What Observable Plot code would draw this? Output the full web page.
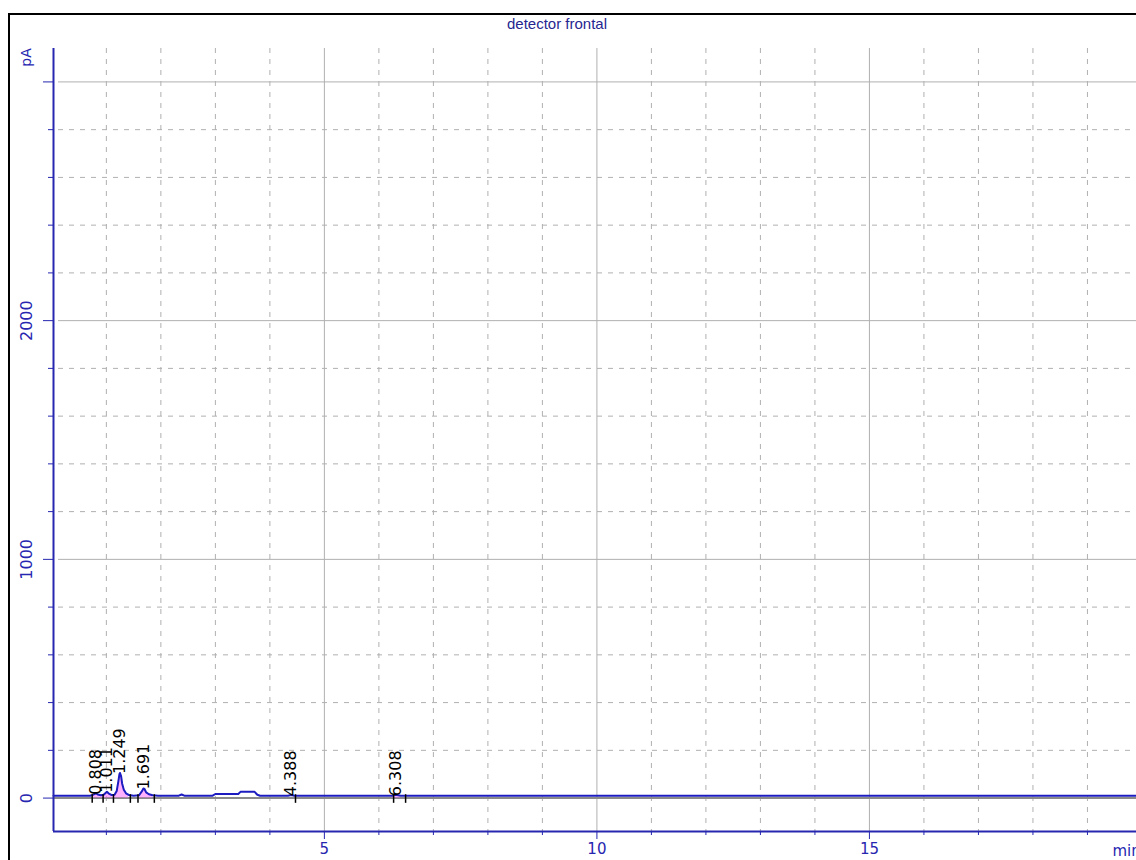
<!DOCTYPE html>
<html><head><meta charset="utf-8">
<script src="https://cdn.jsdelivr.net/npm/d3@7"></script>
<script src="https://cdn.jsdelivr.net/npm/@observablehq/plot@0.6"></script>
<style>
body{margin:0;background:#fff;overflow:hidden}
#wrap{position:relative;width:1136px;height:860px;overflow:hidden;background:#fff}
#border{position:absolute;left:8px;top:13px;width:2000px;height:2000px;border-left:2px solid #000;border-top:2px solid #000;pointer-events:none}
</style></head><body><div id="wrap"><div id="border"></div></div>
<script>
// Chromatogram signal (min, pA)
const times = [0.03, 0.70, 0.75, 0.79, 0.81, 0.84, 0.90, 0.95, 0.99, 1.01, 1.04, 1.09, 1.15, 1.19, 1.22, 1.24, 1.25, 1.27, 1.29, 1.32, 1.36, 1.41, 1.50, 1.60, 1.65, 1.68, 1.70, 1.73, 1.78, 1.85, 1.95, 2.33, 2.38, 2.43, 2.95, 3.00, 3.42, 3.46, 3.72, 3.77, 3.82, 4.33, 4.39, 4.45, 6.24, 6.31, 6.40, 19.9];
const pA    = [10,   10,   13,   18,   20,   15,   12,   14,   22,   26,   20,   13,   14,   30,   70,   100,  105,  92,   60,   35,   20,   13,   10,   12,   28,   40,   38,   24,   16,   12,   10,   10,   15,   10,   10,   17,   17,   26,   26,   14,   10,   10,   13,   10,   10,   14,   10,   10];

// Integrated peaks
const peakTimes   = [0.808, 1.011, 1.249, 1.691, 4.388, 6.308];
const peakLabels  = ["0.808", "1.011", "1.249", "1.691", "4.388", "6.308"];
const peakHeights = [18, 26, 105, 40, 12, 12];
const peakMarks   = [0.74, 0.94, 1.13, 1.44, 1.58, 1.88, 4.47, 6.27, 6.49];
const peakStarts  = [0.72, 1.58, 6.22];
const peakEnds    = [1.44, 1.88, 6.48];

// Axes
const xMajor = [5, 10, 15];
const xMinor = [1, 2, 3, 4, 6, 7, 8, 9, 11, 12, 13, 14, 16, 17, 18, 19];
const yMajor = [0, 1000, 2000, 3000];
const yLabels = [0, 1000, 2000];
const yMinor = [200, 400, 600, 800, 1200, 1400, 1600, 1800, 2200, 2400, 2600, 2800];
const xDomain = [0.03, 19.9];
const yDomain = [-140, 3140];
const title = "detector frontal";
const yUnit = "pA";
const xUnit = "min";

const signal = times.map((t, i) => ({t, v: pA[i]}));
const peaks = peakTimes.map((t, i) => ({t, label: peakLabels[i], h: peakHeights[i]}));
const inPeak = t => peakStarts.some((s, i) => t >= s && t <= peakEnds[i]);

const blue = "#2626b0";
const grid = "#b0b0b0";
const font = "DejaVu Sans";

const chart = Plot.plot({
  width: 1136,
  height: 860,
  marginLeft: 53,
  marginRight: 0,
  marginTop: 48,
  marginBottom: 29,
  style: {fontFamily: font, background: "white", overflow: "hidden"},
  x: {domain: xDomain},
  y: {domain: yDomain},
  marks: [
    Plot.ruleX(xMinor, {stroke: grid, strokeWidth: 1, strokeDasharray: "5,6"}),
    Plot.ruleY(yMinor, {stroke: grid, strokeWidth: 1, strokeDasharray: "5,6", insetLeft: 5}),
    Plot.ruleX(xMajor, {stroke: grid, strokeWidth: 1}),
    Plot.ruleY(yMajor.filter(d => d !== 0), {stroke: grid, strokeWidth: 1, insetLeft: 5}),
    // baseline
    Plot.ruleY([0], {stroke: "#8a8a8a", strokeWidth: 2}),
    // peak areas
    Plot.areaY(signal, {x: "t", y1: 0, y2: d => inPeak(d.t) ? d.v : NaN, fill: "#ff70ff", fillOpacity: 0.55}),
    // signal
    Plot.line(signal, {x: "t", y: "v", stroke: "#1c1cc0", strokeWidth: 2}),
    // peak boundary marks
    Plot.ruleX(peakMarks, {y1: -22, y2: 14, stroke: "#000", strokeWidth: 1.5}),
    // peak labels
    Plot.text(peaks, {x: "t", y: "h", text: "label", rotate: -90, textAnchor: "start", lineAnchor: "middle", dy: 1, fontSize: 16, fill: "#000"}),
    // axis lines
    Plot.ruleX([xDomain[0]], {stroke: blue, strokeWidth: 2}),
    Plot.ruleY([yDomain[0]], {stroke: blue, strokeWidth: 2}),
    // axis ticks
    Plot.axisX(xMinor, {tickSize: 4, stroke: blue, fill: "none", label: null}),
    Plot.axisX(xMajor, {tickSize: 8, tickPadding: 4, stroke: blue, fill: blue, fontSize: 15, label: null}),
    Plot.axisY(yMinor, {tickSize: 5, stroke: blue, fill: "none", label: null}),
    Plot.axisY(yMajor, {tickSize: 10, stroke: blue, fill: "none", label: null}),
    Plot.text(yLabels, {y: d => d, text: d => String(d), frameAnchor: "left", dx: -27, rotate: -90, textAnchor: "middle", lineAnchor: "middle", fontSize: 16, fill: blue}),
    Plot.text([yUnit], {text: d => d, frameAnchor: "top-left", dx: -27, dy: 9, rotate: -90, textAnchor: "middle", lineAnchor: "middle", fontSize: 14, fill: blue}),
    Plot.text([xUnit], {text: d => d, frameAnchor: "bottom-right", dx: -24, dy: 20, textAnchor: "start", lineAnchor: "middle", fontSize: 15, fill: blue}),
    Plot.text([title], {text: d => d, frameAnchor: "top", dx: -38, dy: -24, textAnchor: "middle", lineAnchor: "middle", fontSize: 15, fill: "#262690", fontFamily: "Liberation Sans", letterSpacing: "0.6px"})
  ]
});
document.getElementById("wrap").appendChild(chart);
</script></body></html>
